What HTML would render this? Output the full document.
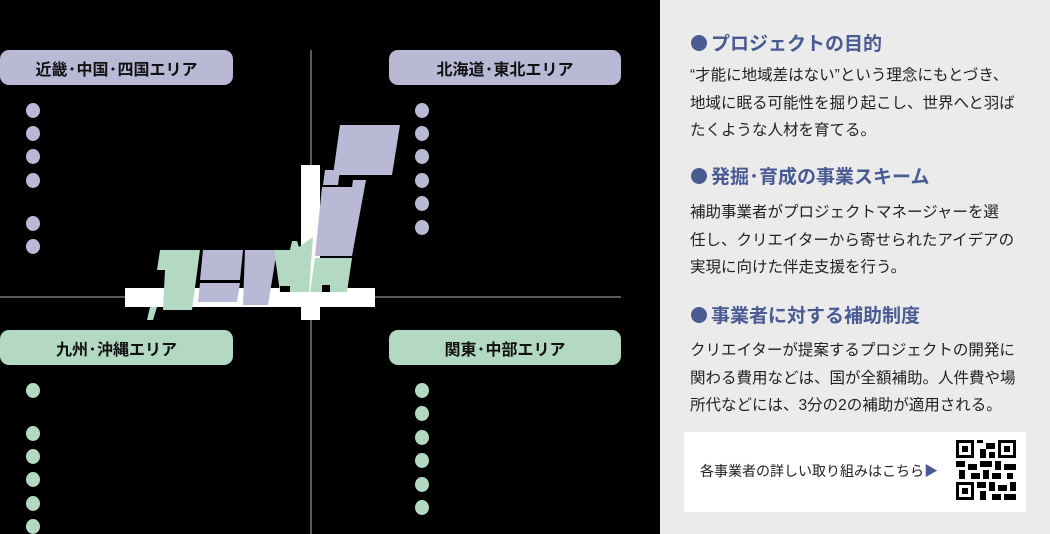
<!DOCTYPE html>
<html><head><meta charset="utf-8"><style>
*{margin:0;padding:0;box-sizing:border-box}
body{width:1050px;height:534px;background:#000;position:relative;overflow:hidden;font-family:"Liberation Sans","Noto Sans CJK JP",sans-serif}
.pill{position:absolute;height:35px;border-radius:9px;font-weight:bold;font-size:16px;color:#111;display:flex;align-items:center;justify-content:center}
.pill i{font-style:normal;display:inline-block;width:9px;text-align:center}
.p{background:#b9b9d6}.g{background:#b3d9c3}
.dot{position:absolute;width:14px;height:15px;border-radius:50%}
#right{position:absolute;left:660px;top:0;width:390px;height:534px;background:#ebebeb}
h2{position:absolute;left:31px;font-size:19px;color:#4a5a92;font-weight:bold;white-space:nowrap;display:flex;align-items:center}
h2 b{display:inline-block;width:16px;height:16px;border-radius:50%;background:#4a5a92;margin-right:4px}
.body{position:absolute;left:30px;font-size:15.5px;line-height:27.5px;color:#222;white-space:nowrap}
</style></head><body>
<svg width="660" height="534" style="position:absolute;left:0;top:0">
<line x1="311" y1="50" x2="311" y2="534" stroke="#777" stroke-width="1.5"/>
<line x1="0" y1="297" x2="621" y2="297" stroke="#777" stroke-width="1.5"/>
<rect x="125" y="288" width="250" height="19" fill="#fff"/>
<rect x="301" y="165" width="19" height="155" fill="#fff"/>
<g fill="#b9b9d6">
<polygon points="340,125 400,125 392,175 333,175"/>
<polygon points="325,170 340,170 338,185 323,185"/>
<polygon points="322,187 352,187 353,180 366,180 352,256 315,256"/>
<polygon points="203,250 243,250 240,280 200,280"/>
<polygon points="200,283 240,283 237,302 198,302"/>
<polygon points="245,250 277,250 268,305 243,305"/>
</g>
<g fill="#b3d9c3">
<polygon points="315,258 352,258 347,292 310,292"/>
<polygon points="274,250 290,250 292,241 297,241 299,247 313,237 309,292 280,292"/>
<polygon points="160,250 200,250 192,310 163,310 165,270 157,270"/>
<polygon points="150,307 157,307 153,320 147,320"/>
</g>
<rect x="322" y="285" width="8" height="7" fill="#000"/>
<rect x="280" y="286" width="10" height="6" fill="#000"/>
</svg>
<div class="pill p" style="left:0;top:50px;width:233px">近畿<i>･</i>中国<i>･</i>四国エリア</div>
<div class="pill p" style="left:389px;top:50px;width:232px">北海道<i>･</i>東北エリア</div>
<div class="pill g" style="left:0;top:330px;width:233px">九州<i>･</i>沖縄エリア</div>
<div class="pill g" style="left:389px;top:330px;width:232px">関東<i>･</i>中部エリア</div>
<div class="dot p" style="left:26px;top:103px"></div>
<div class="dot p" style="left:26px;top:126px"></div>
<div class="dot p" style="left:26px;top:149px"></div>
<div class="dot p" style="left:26px;top:173px"></div>
<div class="dot p" style="left:26px;top:216px"></div>
<div class="dot p" style="left:26px;top:239px"></div>
<div class="dot p" style="left:415px;top:103px"></div>
<div class="dot p" style="left:415px;top:126px"></div>
<div class="dot p" style="left:415px;top:149px"></div>
<div class="dot p" style="left:415px;top:173px"></div>
<div class="dot p" style="left:415px;top:196px"></div>
<div class="dot p" style="left:415px;top:220px"></div>
<div class="dot g" style="left:26px;top:383px"></div>
<div class="dot g" style="left:26px;top:426px"></div>
<div class="dot g" style="left:26px;top:449px"></div>
<div class="dot g" style="left:26px;top:472px"></div>
<div class="dot g" style="left:26px;top:496px"></div>
<div class="dot g" style="left:26px;top:519px"></div>
<div class="dot g" style="left:415px;top:383px"></div>
<div class="dot g" style="left:415px;top:406px"></div>
<div class="dot g" style="left:415px;top:430px"></div>
<div class="dot g" style="left:415px;top:453px"></div>
<div class="dot g" style="left:415px;top:477px"></div>
<div class="dot g" style="left:415px;top:500px"></div>
<div id="right">
<h2 style="top:29px"><b></b>プロジェクトの目的</h2>
<div class="body" style="top:62px">“才能に地域差はない”という理念にもとづき、<br>地域に眠る可能性を掘り起こし、世界へと羽ば<br>たくような人材を育てる。</div>
<h2 style="top:162px"><b></b>発掘<span style="display:inline-block;width:10px;text-align:center">･</span>育成の事業スキーム</h2>
<div class="body" style="top:199px">補助事業者がプロジェクトマネージャーを選<br>任し、クリエイターから寄せられたアイデアの<br>実現に向けた伴走支援を行う。</div>
<h2 style="top:301px"><b></b>事業者に対する補助制度</h2>
<div class="body" style="top:337px">クリエイターが提案するプロジェクトの開発に<br>関わる費用などは、国が全額補助。人件費や場<br>所代などには、3分の2の補助が適用される。</div>
<div style="position:absolute;left:24px;top:432px;width:342px;height:80px;background:#fff">
<div style="position:absolute;left:16px;top:29px;font-size:14px;color:#222;white-space:nowrap">各事業者の詳しい取り組みはこちら<span style="color:#4a5a92">▶</span></div>
<svg style="position:absolute;left:272px;top:8px" width="60" height="60" viewBox="0 0 20 20">
<g fill="#000">
<rect x="0" y="0" width="6" height="6"/><rect x="14" y="0" width="6" height="6"/><rect x="0" y="14" width="6" height="6"/>
</g><g fill="#fff"><rect x="1" y="1" width="4" height="4"/><rect x="15" y="1" width="4" height="4"/><rect x="1" y="15" width="4" height="4"/></g>
<g fill="#000"><rect x="2" y="2" width="2" height="2"/><rect x="16" y="2" width="2" height="2"/><rect x="2" y="16" width="2" height="2"/>
<rect x="7" y="0" width="2" height="1"/><rect x="10" y="1" width="3" height="2"/><rect x="8" y="3" width="2" height="3"/><rect x="11" y="4" width="2" height="2"/>
<rect x="0" y="7" width="3" height="2"/><rect x="4" y="8" width="3" height="2"/><rect x="8" y="7" width="4" height="2"/><rect x="13" y="7" width="2" height="3"/><rect x="16" y="8" width="4" height="2"/>
<rect x="1" y="10" width="2" height="3"/><rect x="5" y="11" width="3" height="2"/><rect x="9" y="10" width="2" height="3"/><rect x="12" y="11" width="3" height="2"/><rect x="17" y="11" width="2" height="2"/>
<rect x="7" y="14" width="3" height="2"/><rect x="11" y="14" width="2" height="3"/><rect x="14" y="15" width="3" height="2"/><rect x="18" y="14" width="2" height="3"/>
<rect x="8" y="17" width="2" height="3"/><rect x="12" y="18" width="3" height="2"/><rect x="16" y="18" width="4" height="2"/></g>
</svg>
</div>
</div>
</body></html>
